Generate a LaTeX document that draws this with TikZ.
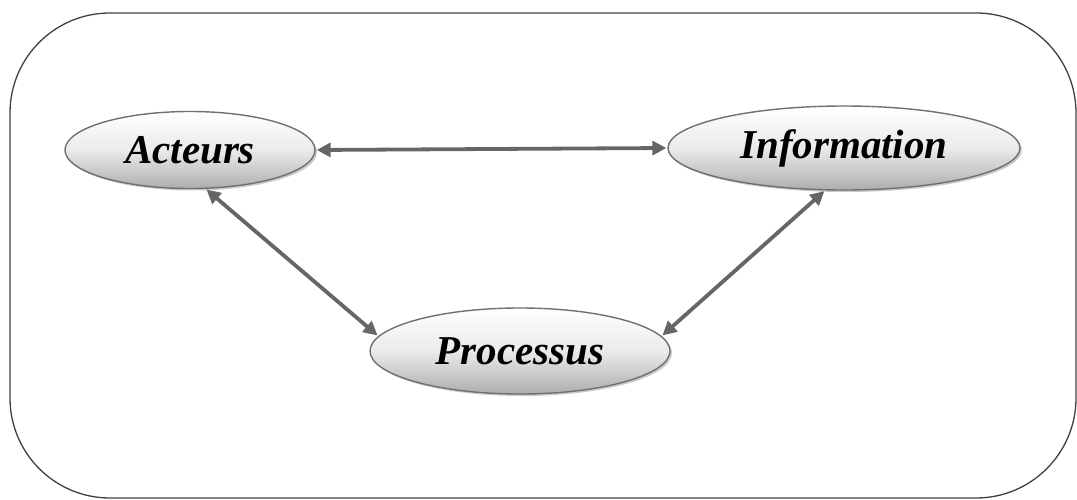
\documentclass[tikz,border=0pt]{standalone}
\usepackage{fontspec}
\setmainfont{Liberation Serif}
\usetikzlibrary{shapes.geometric,shadows,arrows.meta}
\definecolor{linkgray}{HTML}{666666}
\definecolor{rimgray}{HTML}{707070}
\begin{document}
\begin{tikzpicture}[x=1pt,y=-1pt,
  bubble/.style={ellipse, draw=rimgray, line width=1.4pt,
    top color=white, bottom color=black!32, middle color=black!8,
    shading angle=0,
    drop shadow={shadow xshift=2pt, shadow yshift=-2pt, fill=black!35, opacity=0.6},
    font=\bfseries\itshape\fontsize{41}{41}\selectfont, inner sep=0pt},
  link/.style={draw=linkgray, line width=3.8pt,
    {Triangle[length=14pt,width=14pt]}-{Triangle[length=14pt,width=14pt]}, shorten >=1pt, shorten <=1pt}]
  \useasboundingbox (0,0) rectangle (1077,500);
  % frame
  \draw[black!75, line width=1.3pt, rounded corners=100pt] (10,13) rectangle (1076,498);
  % nodes
  \node[bubble, minimum width=250pt, minimum height=77pt] (act) at (190,150) {Acteurs};
  \node[bubble, minimum width=352pt, minimum height=84pt] (inf) at (844,148) {Information};
  \node[bubble, minimum width=300pt, minimum height=86pt] (pro) at (520,351) {Processus};
  % connectors
  \draw[link] (act.east) -- (inf.west);
  \draw[link] (act.-68) -- (pro.174);
  \draw[link] (pro.6) -- (inf.-114);
\end{tikzpicture}
\end{document}
